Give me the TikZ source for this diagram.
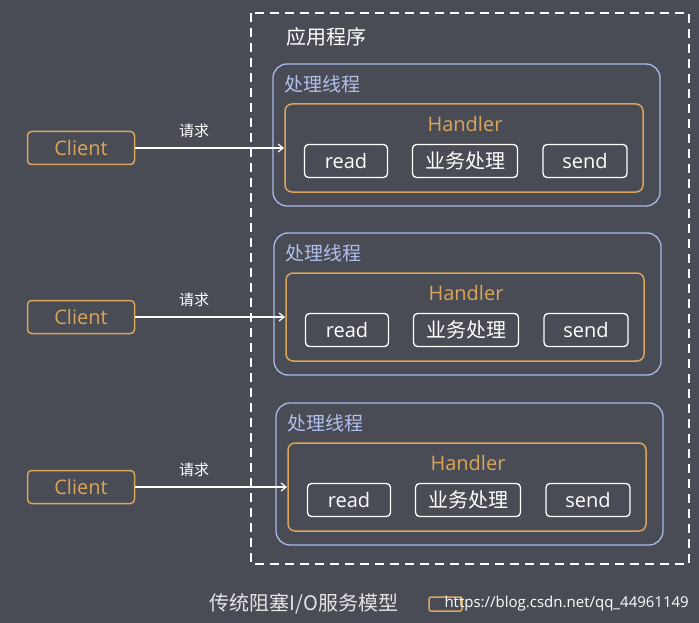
\documentclass[tikz,border=0pt]{standalone}
\usepackage{fontspec}
\setmainfont{Open Sans}
\newfontfamily\cjk{Noto Sans CJK SC}
\usetikzlibrary{arrows.meta}
\definecolor{bg}{HTML}{4A4C55}
\definecolor{thr}{HTML}{A8B8E8}
\definecolor{org}{HTML}{D9A55A}
\begin{document}
\begin{tikzpicture}[x=1pt,y=-1pt,
  thread/.style={draw=thr,line width=1.3pt,rounded corners=14pt},
  handler/.style={draw=org,line width=1.5pt,rounded corners=7pt},
  op/.style={draw=white,line width=1.3pt,rounded corners=4pt,minimum height=33pt,text=white,font=\cjk\fontsize{20}{20}\selectfont,inner sep=1pt},
  client/.style={draw=org,line width=1.5pt,rounded corners=4pt,minimum width=107pt,minimum height=33pt,text=org,font=\fontsize{20}{20}\selectfont},
  lbl/.style={text=white,font=\cjk\fontsize{19}{19}\selectfont},
  arr/.style={draw=white,line width=1.2pt,-{Straight Barb[length=5pt,width=8pt]}}]
\fill[bg] (0,0) rectangle (699,623);
\useasboundingbox (0,0) rectangle (699,623);
\draw[white,line width=1.8pt,dash pattern=on 9pt off 6pt] (251,13) rectangle (689,564);
\node[lbl,font=\cjk\fontsize{20}{20}\selectfont] (app) at (326,37) {应用程序};
\foreach \i/\dy/\dx in {1/0/0,2/169/1,3/339/3}{
  \begin{scope}[yshift=-\dy pt,xshift=\dx pt]
  \draw[thread] (273,64) rectangle (660,206);
  \node[lbl,anchor=west,text=thr!90!white] (t\i) at (281,84) {处理线程};
  \draw[handler] (285,104) rectangle (643,192);
  \node[text=org,font=\fontsize{20}{20}\selectfont] (h\i) at (465,124) {Handler};
  \node[op,minimum width=83pt,font=\fontsize{20}{20}\selectfont] (r\i) at (346,161) {read};
  \node[op,minimum width=105pt] (b\i) at (465,161) {业务处理};
  \node[op,minimum width=84pt,font=\fontsize{20}{20}\selectfont] (s\i) at (585,161) {send};
  \coordinate (in\i) at (284,148);
  \end{scope}
  \begin{scope}[yshift=-\dy pt]
  \node[client] (c\i) at (81,148) {Client};
  \node[lbl,font=\cjk\fontsize{15}{15}\selectfont] (q\i) at (194,131) {请求};
  \end{scope}
  \draw[arr] (c\i.east) -- (in\i);
}
\node[text=white!85!bg,font=\cjk\fontsize{20}{20}\selectfont] (title) at (304,604) {传统阻塞I/O服务模型};
\draw[org,line width=1.5pt,rounded corners=2pt] (429,597) rectangle (462,611);
\node[text=white,font=\fontsize{15}{15}\selectfont,anchor=west] (wm) at (441,604) {https://blog.csdn.net/qq\_44961149};
\end{tikzpicture}
\end{document}
